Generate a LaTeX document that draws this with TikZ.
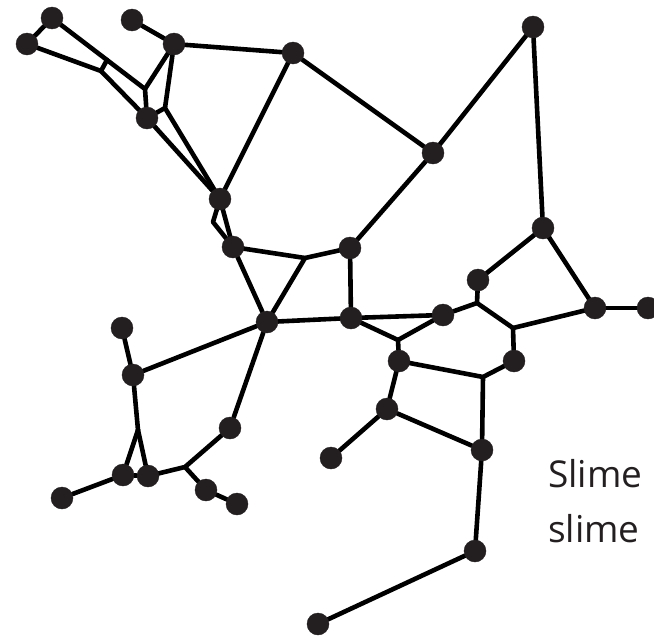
\documentclass[tikz,border=0pt]{standalone}
\usepackage{fontspec}
\setmainfont{Open Sans}
\usetikzlibrary{backgrounds}
\definecolor{nodedark}{RGB}{35, 31, 32}

\begin{document}
\begin{tikzpicture}[
  x=1pt, y=-1pt,
  cell/.style={circle, fill=nodedark, draw=nodedark, minimum size=22pt, inner sep=0pt},
  vein/.style={line width=4.6pt, line join=round, line cap=round, black},
  caption/.style={anchor=base west, inner sep=0pt, font=\fontsize{37}{44}\selectfont, text=nodedark}
]
  \useasboundingbox (0,0) rectangle (654,643);

  % Top-left cluster
  \node[cell] (a1) at (52,18)  {};
  \node[cell] (a2) at (27,44)  {};
  \node[cell] (b1) at (132,20) {};
  \node[cell] (b2) at (174,44) {};
  \node[cell] (c)  at (147,118) {};
  \node[cell] (d)  at (220,199) {};
  \node[cell] (e)  at (233,247) {};
  \node[cell] (f)  at (293,53) {};
  \node[cell] (g)  at (433,153) {};
  \node[cell] (h)  at (533,27) {};
  \coordinate (j1) at (145,89);
  \coordinate (j2) at (165,108);
  \coordinate (r1) at (107,60);
  \coordinate (r2) at (101,71);
  \coordinate (j10) at (213,222);

  % Middle
  \node[cell] (k) at (350,248) {};
  \node[cell] (l) at (267,322) {};
  \node[cell] (m) at (351,318) {};
  \node[cell] (n) at (399,361) {};
  \node[cell] (o) at (443,315) {};
  \node[cell] (p) at (478,280) {};
  \node[cell] (i) at (543,228) {};
  \node[cell] (q) at (595,308) {};
  \node[cell] (r) at (648,308) {};
  \node[cell] (s) at (514,361) {};
  \coordinate (j3) at (305,258);
  \coordinate (j4) at (398,340);
  \coordinate (j5) at (477,303);
  \coordinate (j6) at (513,328);
  \coordinate (j7) at (483,377);

  % Lower right
  \node[cell] (t) at (387,409) {};
  \node[cell] (u) at (482,450) {};
  \node[cell] (v) at (331,458) {};
  \node[cell] (w) at (475,551) {};
  \node[cell] (x) at (318,624) {};

  % Lower left
  \node[cell] (y)  at (122,328) {};
  \node[cell] (z)  at (133,375) {};
  \node[cell] (aa) at (230,428) {};
  \node[cell] (bb) at (123,475) {};
  \node[cell] (cc) at (148,476) {};
  \node[cell] (dd) at (62,498) {};
  \node[cell] (ee) at (206,490) {};
  \node[cell] (ff) at (237,504) {};
  \coordinate (j8) at (185,467);
  \coordinate (j9) at (138,430);

  \begin{scope}[on background layer]
    % top-left veins
    \draw[vein] (a1) -- (a2);
    \draw[vein] (a1) -- (j1) -- (b2);
    \draw[vein] (j1) -- (c);
    \draw[vein] (a2) -- (r2) -- (c);
    \draw[vein] (r1) -- (r2);
    \draw[vein] (b1) -- (b2);
    \draw[vein] (b2) -- (j2) -- (d);
    \draw[vein] (j2) -- (c);
    \draw[vein] (c) -- (d);
    \draw[vein] (b2) -- (f);
    \draw[vein] (f) -- (d);
    \draw[vein] (d) -- (j10) -- (e);
    \draw[vein] (d) -- (e);
    \draw[vein] (f) -- (g);
    \draw[vein] (g) -- (h);
    \draw[vein] (h) -- (i);
    \draw[vein] (g) -- (k);
    % middle veins
    \draw[vein] (e) -- (j3) -- (k);
    \draw[vein] (j3) -- (l);
    \draw[vein] (e) -- (l);
    \draw[vein] (k) -- (m);
    \draw[vein] (l) -- (m);
    \draw[vein] (m) -- (o);
    \draw[vein] (m) -- (j4) -- (o);
    \draw[vein] (j4) -- (n);
    \draw[vein] (o) -- (j5) -- (p);
    \draw[vein] (p) -- (i);
    \draw[vein] (i) -- (q);
    \draw[vein] (q) -- (r);
    \draw[vein] (j5) -- (j6) -- (q);
    \draw[vein] (j6) -- (s);
    \draw[vein] (s) -- (j7) -- (n);
    \draw[vein] (j7) -- (u);
    % lower right veins
    \draw[vein] (n) -- (t);
    \draw[vein] (t) -- (v);
    \draw[vein] (t) -- (u);
    \draw[vein] (u) -- (w);
    \draw[vein] (w) -- (x);
    % lower left veins
    \draw[vein] (l) -- (z);
    \draw[vein] (y) -- (z);
    \draw[vein] (z) -- (j9);
    \draw[vein] (j9) -- (bb);
    \draw[vein] (j9) -- (cc);
    \draw[vein] (bb) -- (cc);
    \draw[vein] (bb) -- (dd);
    \draw[vein] (cc) -- (j8) -- (aa);
    \draw[vein] (j8) -- (ee);
    \draw[vein] (ee) -- (ff);
    \draw[vein] (aa) -- (l);
  \end{scope}

  % Caption (cut at the right edge)
  \node[caption] (cap1) at (548,487) {Slime};
  \node[caption] (cap2) at (548,542) {slime};

\end{tikzpicture}
\end{document}
